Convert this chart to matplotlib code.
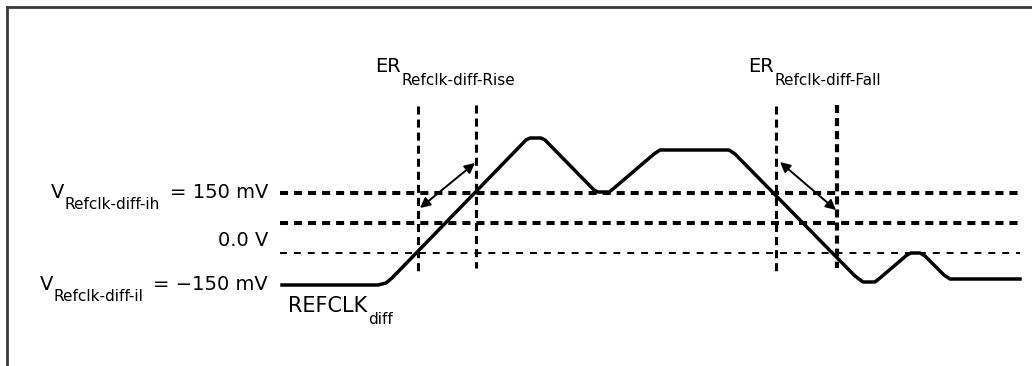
import matplotlib
matplotlib.use('Agg')
import matplotlib.pyplot as plt
from matplotlib.lines import Line2D

plt.rcParams['font.family'] = ['DejaVu Sans']
plt.rcParams['lines.scale_dashes'] = False

# waveform REFCLK_diff (time in arbitrary units, level in mV on the drawing scale)
sig_t = [0.2, 9.8, 10.6, 11.2, 24.6, 25.0, 26.1, 26.5, 31.4, 31.8, 32.9, 33.3,
         37.4, 38.0, 44.9, 45.5, 57.5, 58.3, 59.5, 60.0, 62.7, 63.1, 64.0, 64.5,
         66.4, 67.0, 74.0]
sig_v = [-310, -310, -300, -275, 415, 425, 425, 415, 165, 155, 155, 170,
         345, 365, 365, 345, -265, -295, -295, -275, -160, -150, -150, -165,
         -260, -280, -280]

# horizontal reference levels
level_v = [150, 0, -150]
level_lw = [2.9, 2.9, 1.4]
level_dash = [(5.8, 4.3), (5.8, 4.3), (5.0, 5.0)]
level_t = [0.0, 74.0]

# edge rate windows (vertical markers)
marker_t = [13.8, 19.6, 49.6, 55.7]
marker_lw = [2.2, 2.2, 2.2, 3.0]
marker_top = [585, 590, 585, 590]
marker_bot = [-245, -225, -245, -225]

# edge rate arrows: start/end (t, v)
arrow_start = [(14.0, 75), (50.0, 305)]
arrow_end = [(19.5, 300), (55.6, 65)]


def sub_label(ax, x, y, main, sub, size=14, subsize=11, ha='left', tail=''):
    """main text with a subscript after it (and an optional tail after that)"""
    if ha == 'left':
        t1 = ax.text(x, y, main, fontsize=size, ha='left', va='center')
        t2 = ax.annotate(sub, xy=(1, 0.2), xycoords=t1, xytext=(0.5, 0),
                         textcoords='offset points', fontsize=subsize,
                         ha='left', va='top')
        if tail:
            ax.annotate(tail, xy=(1, 0.5), xycoords=(t2, t1), xytext=(1, 0),
                        textcoords='offset points', fontsize=size,
                        ha='left', va='center')
    else:
        t3 = ax.text(x, y, tail, fontsize=size, ha='right', va='center')
        t2 = ax.annotate(sub, xy=(0, 0.25), xycoords=t3, xytext=(-7, 0),
                         textcoords='offset points', fontsize=subsize,
                         ha='right', va='top')
        ax.annotate(main, xy=(0, 0.5), xycoords=(t2, t3), xytext=(-0.5, 0),
                    textcoords='offset points', fontsize=size,
                    ha='right', va='center')


fig = plt.figure(figsize=(10.32, 3.66), dpi=100)
ax = fig.add_axes([0, 0, 1, 1])
ax.set_xlim(-28, 75.2)
ax.set_ylim(-715, 1115)
ax.axis('off')

# frame (top and left edges only are visible)
fig.add_artist(Line2D([7 / 1032, 1], [1 - 7 / 366, 1 - 7 / 366], color='#3a3a3a', lw=2))
fig.add_artist(Line2D([7 / 1032, 7 / 1032], [0, 1 - 7 / 366], color='#3a3a3a', lw=2))

for v, lw, d in zip(level_v, level_lw, level_dash):
    ax.plot(level_t, [v, v], color='black', lw=lw, dashes=d, solid_capstyle='butt')

for t, lw, top, bot in zip(marker_t, marker_lw, marker_top, marker_bot):
    ax.plot([t, t], [top, bot], color='black', lw=lw, dashes=(5.8, 3.6))

ax.plot(sig_t, sig_v, color='black', lw=2.5, solid_joinstyle='round')

for s, e in zip(arrow_start, arrow_end):
    ax.annotate('', xy=e, xytext=s,
                arrowprops=dict(arrowstyle='<|-|>', color='black', lw=1.4,
                                mutation_scale=15, shrinkA=0, shrinkB=0))

sub_label(ax, -1.2, 152, 'V', 'Refclk-diff-ih', ha='right', tail='= 150 mV')
ax.text(-1.2, -90, '0.0 V', fontsize=14, ha='right', va='center')
sub_label(ax, -1.2, -305, 'V', 'Refclk-diff-il', ha='right', tail='= \u2212150 mV')
sub_label(ax, 0.8, -417, 'REFCLK', 'diff', size=15)
sub_label(ax, 9.5, 780, 'ER', 'Refclk-diff-Rise')
sub_label(ax, 46.8, 780, 'ER', 'Refclk-diff-Fall')

fig.savefig('out.png', dpi=100)
